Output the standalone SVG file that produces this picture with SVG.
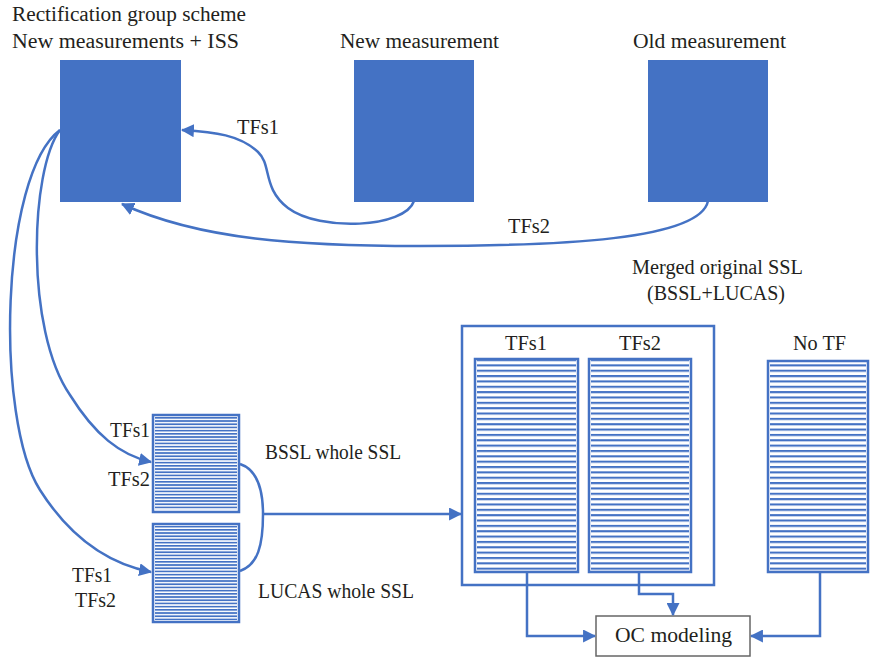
<svg xmlns="http://www.w3.org/2000/svg" width="871" height="659" viewBox="0 0 871 659">
<style>
text{font-family:"Liberation Serif","Times New Roman",serif;font-size:20.5px;fill:#231f20}
.solid{fill:#4472c4}
.ln{fill:none;stroke:#4472c4;stroke-width:2.5}
.frame{fill:none;stroke:#4472c4;stroke-width:2.5}
</style>
<defs>
<marker id="ah" viewBox="0 0 12 12" refX="11" refY="6" markerWidth="13" markerHeight="13" markerUnits="userSpaceOnUse" orient="auto">
<path d="M0,0 L12,6 L0,12 Z" fill="#4472c4"/>
</marker>
<pattern id="pFine" patternUnits="userSpaceOnUse" x="0" y="417" width="10" height="3.2">
<rect x="0" y="0" width="10" height="1.7" fill="#4472c4"/>
</pattern>
<pattern id="pWide" patternUnits="userSpaceOnUse" x="0" y="359" width="10" height="5.35">
<rect x="0" y="0" width="10" height="2.1" fill="#4472c4"/>
</pattern>
</defs>

<g id="title">
<text x="12" y="21" textLength="234" lengthAdjust="spacingAndGlyphs">Rectification group scheme</text>
</g>

<g id="node-new-iss">
<text x="12" y="48" textLength="227" lengthAdjust="spacingAndGlyphs">New measurements + ISS</text>
<rect class="solid" x="60" y="60" width="121" height="142"/>
</g>
<g id="node-new">
<text x="340" y="48" textLength="159" lengthAdjust="spacingAndGlyphs">New measurement</text>
<rect class="solid" x="354" y="60" width="120" height="142"/>
</g>
<g id="node-old">
<text x="633" y="48" textLength="153" lengthAdjust="spacingAndGlyphs">Old measurement</text>
<rect class="solid" x="648" y="60" width="120" height="142"/>
</g>

<g id="node-bssl">
<rect x="152" y="414" width="88" height="99" fill="#fff"/>
<rect x="155" y="417" width="82" height="93" fill="url(#pFine)"/>
<rect x="153" y="415" width="86" height="97" fill="none" stroke="#4472c4" stroke-width="2.5"/>
<text x="265" y="459" textLength="136" lengthAdjust="spacingAndGlyphs">BSSL whole SSL</text>
<text x="110" y="437" textLength="40" lengthAdjust="spacingAndGlyphs">TFs1</text>
<text x="108" y="486" textLength="42" lengthAdjust="spacingAndGlyphs">TFs2</text>
</g>
<g id="node-lucas">
<rect x="152" y="523" width="88" height="100" fill="#fff"/>
<rect x="155" y="526" width="82" height="94" fill="url(#pFine)"/>
<rect x="153" y="524" width="86" height="98" fill="none" stroke="#4472c4" stroke-width="2.5"/>
<text x="258" y="598" textLength="156" lengthAdjust="spacingAndGlyphs">LUCAS whole SSL</text>
<text x="72" y="582" textLength="40" lengthAdjust="spacingAndGlyphs">TFs1</text>
<text x="75" y="607" textLength="41" lengthAdjust="spacingAndGlyphs">TFs2</text>
</g>

<g id="node-merged">
<text x="632" y="274" textLength="171" lengthAdjust="spacingAndGlyphs">Merged original SSL</text>
<text x="647" y="300" textLength="138" lengthAdjust="spacingAndGlyphs">(BSSL+LUCAS)</text>
<rect class="frame" x="462" y="326" width="252" height="259"/>
</g>
<g id="node-tfs1">
<text x="505" y="350" textLength="42" lengthAdjust="spacingAndGlyphs">TFs1</text>
<rect x="474" y="358" width="105" height="215" fill="#fff"/>
<rect x="477" y="359" width="99" height="213" fill="url(#pWide)"/>
<rect x="475" y="359" width="103" height="213" fill="none" stroke="#4472c4" stroke-width="2.5"/>
</g>
<g id="node-tfs2">
<text x="619" y="350" textLength="42" lengthAdjust="spacingAndGlyphs">TFs2</text>
<rect x="588" y="358" width="104" height="215" fill="#fff"/>
<rect x="591" y="359" width="98" height="213" fill="url(#pWide)"/>
<rect x="589" y="359" width="102" height="213" fill="none" stroke="#4472c4" stroke-width="2.5"/>
</g>
<g id="node-notf">
<text x="793" y="350" textLength="53" lengthAdjust="spacingAndGlyphs">No TF</text>
<rect x="767" y="360" width="102" height="213" fill="#fff"/>
<rect x="770" y="361" width="96" height="211" fill="url(#pWide)"/>
<rect x="768" y="361" width="100" height="211" fill="none" stroke="#4472c4" stroke-width="2.5"/>
</g>
<g id="node-oc">
<rect x="596" y="616" width="154" height="40" fill="#fff" stroke="#666" stroke-width="1.5"/>
<text x="615" y="642" textLength="117" lengthAdjust="spacingAndGlyphs">OC modeling</text>
</g>

<g id="connectors">
<path class="ln" marker-end="url(#ah)" d="M414,201 C405,228 320,232 288,208 C262,188 272,165 258,152 C240,135 215,132 182,130"/>
<text x="237" y="134" textLength="42" lengthAdjust="spacingAndGlyphs">TFs1</text>
<path class="ln" marker-end="url(#ah)" d="M708,201 C700,240 560,246 420,246 C300,246 200,240 122,204"/>
<text x="508" y="233" textLength="42" lengthAdjust="spacingAndGlyphs">TFs2</text>
<path class="ln" marker-end="url(#ah)" d="M60,130 C30,170 25,330 70,395 C95,435 120,455 151,462"/>
<path class="ln" marker-end="url(#ah)" d="M60,130 C0,175 -5,420 40,490 C75,545 115,565 151,572"/>
<path class="ln" d="M240,464 C258,470 263,490 263,514 C263,545 258,565 240,571"/>
<path class="ln" marker-end="url(#ah)" d="M263,514 H461"/>
<path class="ln" marker-end="url(#ah)" d="M527,573 V636 H595"/>
<path class="ln" marker-end="url(#ah)" d="M639,573 V594 H673 V615"/>
<path class="ln" marker-end="url(#ah)" d="M820,573 V636 H751"/>
</g>
</svg>
